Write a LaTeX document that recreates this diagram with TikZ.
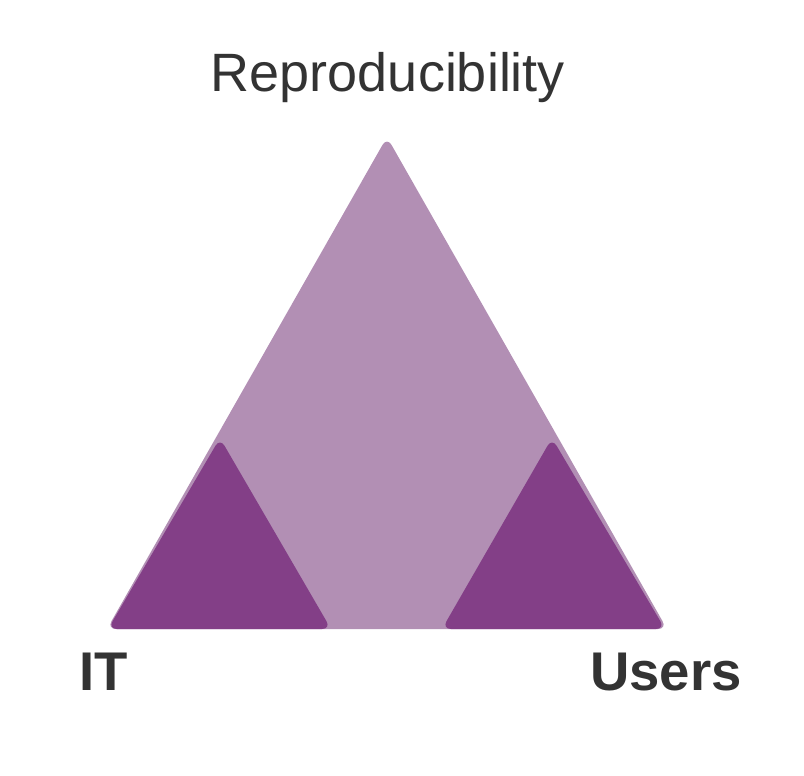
\documentclass[tikz,border=0pt]{standalone}
\usepackage{fontspec}
\setmainfont{Liberation Sans}
\definecolor{lightpurple}{HTML}{B28FB4}
\definecolor{darkpurple}{HTML}{833F87}
\definecolor{textgray}{HTML}{333333}
\begin{document}
\begin{tikzpicture}[x=1pt,y=-1pt,
  bigtri/.style={fill=lightpurple, rounded corners=9pt},
  smalltri/.style={fill=darkpurple, rounded corners=9pt},
  lbl/.style={inner sep=0pt, text=textgray, font=\fontsize{54}{62}\selectfont},
  boldlbl/.style={lbl, font=\fontsize{54.5}{62}\selectfont\bfseries}]
\useasboundingbox (0,0) rectangle (804,776);
\fill[bigtri] (387,137) -- (667,629) -- (107,629) -- cycle;
\fill[smalltri] (220,438) -- (331,629) -- (108,629) -- cycle;
\fill[smalltri] (552,438) -- (665,629) -- (442,629) -- cycle;
\node[lbl, anchor=base] (rep) at (388,92) {Reproducibility};
\node[boldlbl, anchor=base west] (it) at (79,690) {IT};
\node[boldlbl, anchor=base east] (users) at (742,690) {Users};
\end{tikzpicture}
\end{document}
